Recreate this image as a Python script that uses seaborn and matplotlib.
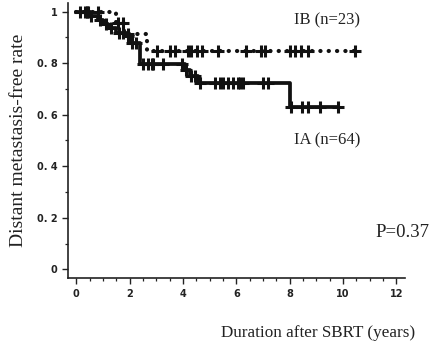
import matplotlib
matplotlib.use("Agg")
import matplotlib.pyplot as plt
import numpy as np
import pandas as pd
import seaborn as sns
from matplotlib.ticker import MultipleLocator, FixedLocator

# stage IA (n=64): step points of the survival curve and censor times
ia_time = [0.0, 0.5, 0.8, 1.0, 1.2, 1.5, 1.9, 2.0, 2.4, 3.98, 4.07, 4.26, 4.57, 8.0, 9.8]
ia_surv = [1.0, 0.984, 0.968, 0.952, 0.936, 0.918, 0.904, 0.88, 0.797, 0.797, 0.773, 0.75, 0.722, 0.629, 0.629]
ia_cens = [0.14, 0.33, 0.42, 0.54, 0.9, 1.1, 1.3, 1.6, 1.75, 1.95, 2.1, 2.25,
           2.51, 2.70, 2.83, 2.89, 3.26, 3.95, 4.13, 4.32, 4.45, 4.64,
           5.2, 5.38, 5.5, 5.69, 5.88, 6.07, 6.13, 6.26, 7.0, 7.19,
           8.07, 8.45, 8.7, 9.13, 9.81]

# stage IB (n=23)
ib_time = [0.0, 1.5, 1.8, 2.64, 10.44]
ib_surv = [1.0, 0.957, 0.913, 0.847, 0.847]
ib_cens = [0.45, 0.82, 1.55, 1.76, 1.95, 3.01, 3.51, 3.70, 4.2, 4.32, 4.51, 4.70,
           5.32, 6.38, 6.94, 7.07, 8.0, 8.19, 8.44, 8.69, 10.44]


def surv_at(times, surv, t):
    # value of the step function at time t
    idx = np.searchsorted(times, t, side="right") - 1
    return np.asarray(surv)[idx]


sns.set_style("ticks")
plt.rcParams["font.family"] = ["DejaVu Sans"]

fig = plt.figure(figsize=(4.4, 3.42), dpi=100)
ax = fig.add_axes([0.154, 0.186, 0.766, 0.805])

ia_df = pd.DataFrame({"t": ia_time, "s": ia_surv})
ib_df = pd.DataFrame({"t": ib_time, "s": ib_surv})
sns.lineplot(data=ia_df, x="t", y="s", ax=ax, drawstyle="steps-post",
             color="#111111", linewidth=2.7, estimator=None, sort=False)
sns.lineplot(data=ib_df, x="t", y="s", ax=ax, drawstyle="steps-post",
             color="#111111", linewidth=3.0, estimator=None, sort=False,
             linestyle=(0, (0.05, 1.95)), dash_capstyle="round")

ia_c = pd.DataFrame({"t": ia_cens, "s": surv_at(ia_time, ia_surv, ia_cens)})
ib_c = pd.DataFrame({"t": ib_cens, "s": surv_at(ib_time, ib_surv, ib_cens)})
for d in (ia_c, ib_c):
    sns.scatterplot(data=d, x="t", y="s", ax=ax, marker="+", s=75,
                    color="#111111", linewidth=2.2, zorder=3)

ax.set_xlim(-0.32, 12.32)
ax.set_ylim(-0.035, 1.033)
ax.xaxis.set_major_locator(MultipleLocator(2))
ax.xaxis.set_minor_locator(MultipleLocator(0.5))
ax.yaxis.set_major_locator(FixedLocator([0, 0.2, 0.4, 0.6, 0.8, 1.0]))
ax.yaxis.set_minor_locator(MultipleLocator(0.1))
ax.set_yticklabels(["0", "0. 2", "0. 4", "0. 6", "0. 8", "1"])
ax.tick_params(which="major", length=4, width=1.0, labelsize=7, color="#222222")
ax.tick_params(which="minor", length=2, width=0.9, color="#222222")
for lab in ax.get_xticklabels() + ax.get_yticklabels():
    lab.set_fontweight("bold")
    lab.set_color("#222222")
sns.despine(ax=ax)
for sp in ("left", "bottom"):
    ax.spines[sp].set_linewidth(1.2)
    ax.spines[sp].set_color("#222222")

serif = "Liberation Serif"
ax.set_xlabel("")
ax.set_ylabel("")
fig.text(0.943, 0.026, "Duration after SBRT (years)", ha="right", va="center",
         family=serif, fontsize=12.3, color="#222222")
fig.text(0.043, 0.59, "Distant metastasis-free rate", ha="center", va="center",
         rotation=90, family=serif, fontsize=14, color="#222222")
ax.text(0.818, 0.94, "IB (n=23)", transform=fig.transFigure, ha="right", va="center",
        family=serif, fontsize=12, color="#222222")
ax.text(0.818, 0.59, "IA (n=64)", transform=fig.transFigure, ha="right", va="center",
        family=serif, fontsize=12, color="#222222")
ax.text(0.975, 0.319, "P=0.37", transform=fig.transFigure, ha="right", va="center",
        family=serif, fontsize=13.5, color="#222222")

fig.savefig("out.png", dpi=100)
